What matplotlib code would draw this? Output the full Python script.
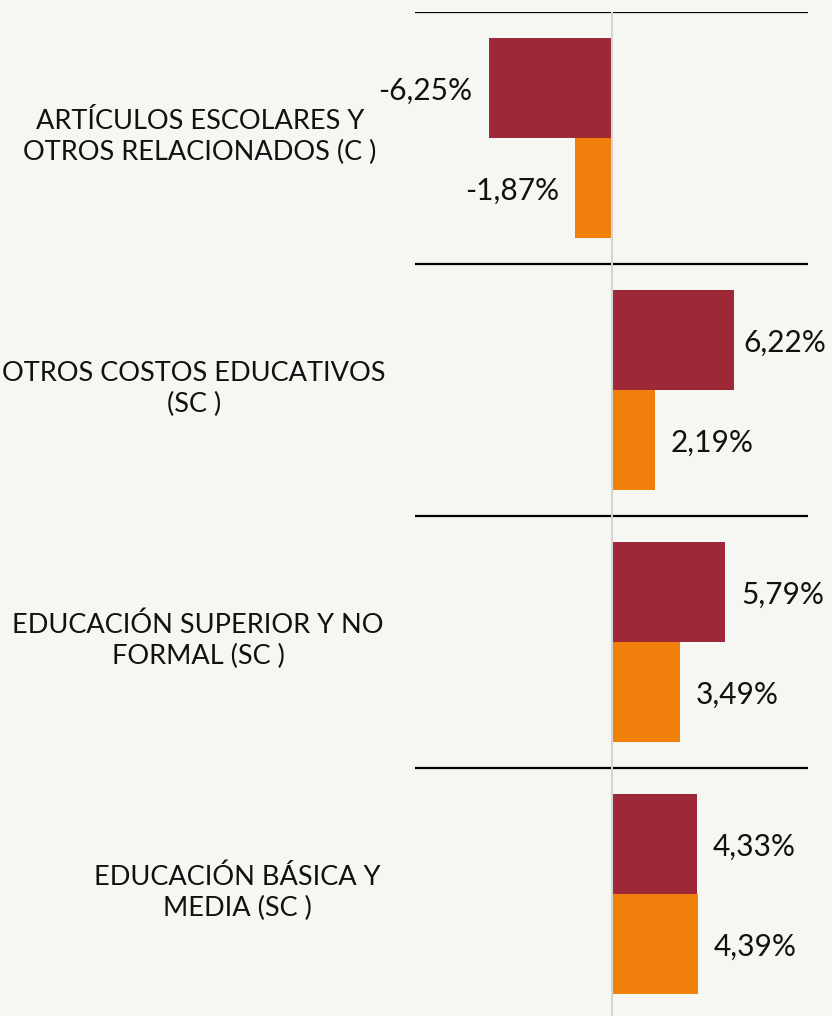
import numpy as np
import matplotlib
matplotlib.use("Agg")
import matplotlib.pyplot as plt

# data
categories = ["ARTÍCULOS ESCOLARES Y\nOTROS RELACIONADOS (C )",
              "OTROS COSTOS EDUCATIVOS\n(SC )",
              "EDUCACIÓN SUPERIOR Y NO\nFORMAL (SC )",
              "EDUCACIÓN BÁSICA Y\nMEDIA (SC )"]
serie_a = [-6.25, 6.22, 5.79, 4.33]   # dark red
serie_b = [-1.87, 2.19, 3.49, 4.39]   # orange

bg = "#f6f6f2"
red = "#9e2838"
orange = "#f0800b"

plt.rcParams['font.family'] = ['Lato', 'DejaVu Sans']

fig = plt.figure(figsize=(8.32, 10.16), dpi=100, facecolor=bg)
ax = fig.add_axes([415/832, 0, 393/832, 1 - 12/1016])
ax.set_facecolor(bg)

y = np.arange(len(categories))
h = 100/252
ax.barh(y - h/2, serie_a, height=h, color=red, zorder=2)
ax.barh(y + h/2, serie_b, height=h, color=orange, zorder=2)

ax.set_xlim(-10, 10)
ax.set_ylim(3.5 - 4/252, -0.5)
ax.axvline(0, color="#d4d4d4", lw=1.5, zorder=3)
for i in y:
    ax.axhline(i - 0.5, color="black", lw=1.6, zorder=1)

def fmt(v):
    return ("%.2f%%" % v).replace(".", ",")

for vals, off in ((serie_a, -h/2), (serie_b, h/2)):
    for i, v in enumerate(vals):
        pad = 10 if v > 6 else 16
        ax.annotate(fmt(v), (v, i + off), xytext=(pad * 0.72 * np.sign(v), -2),
                    textcoords="offset points", va="center",
                    ha="left" if v > 0 else "right", fontsize=21.5,
                    color="#111111", annotation_clip=False)

label_x = [200, 194, 198, 237]
for i, (lab, lx) in enumerate(zip(categories, label_x)):
    fig.text(lx/832, 1 - (137 + 252*i)/1016, lab, ha="center", va="center",
             fontsize=19.5, color="#111111", linespacing=1.32)

ax.set_xticks([])
ax.set_yticks([])
for s in ax.spines.values():
    s.set_visible(False)

fig.savefig("out.png", dpi=100, facecolor=bg)
